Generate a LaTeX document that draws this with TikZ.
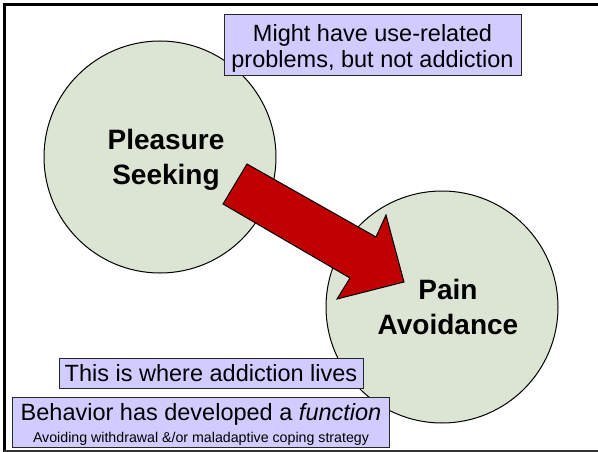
\documentclass[tikz,border=0pt]{standalone}
\usepackage{fontspec}
\setmainfont{Liberation Sans}
\definecolor{circfill}{HTML}{DCE5D4}
\definecolor{boxfill}{HTML}{D0CCFF}
\definecolor{arrred}{HTML}{C00000}
\begin{document}
\begin{tikzpicture}[x=1pt,y=-1pt,
  circ/.style={circle, draw=black, line width=1pt, fill=circfill, minimum size=232pt, inner sep=0pt},
  lbl/.style={font=\fontsize{28}{35}\selectfont\bfseries, align=center, inner sep=0pt},
  notebox/.style={draw=black!85, line width=0.9pt, fill=boxfill, inner sep=0pt},
  bigtxt/.style={font=\fontsize{23.5}{27}\selectfont, inner sep=0pt, anchor=base},
  smalltxt/.style={font=\fontsize{14.2}{16}\selectfont, inner sep=0pt, anchor=base}]
\useasboundingbox (0,0) rectangle (598,452);
% frame
\draw[line width=2.6pt] (4.3,452) -- (4.3,4.3) -- (598,4.3);
\draw[line width=1.2pt, black!80] (4.3,451) -- (598,451);
% circles
\node[circ] (ps) at (160,157) {};
\node[circ] (pa) at (442,307) {};
% arrow
\coordinate (t1) at (247,164);
\coordinate (t2) at (223,204);
\coordinate (s2) at (350,278);
\coordinate (b2) at (337,299);
\coordinate (tip) at (404,282);
\coordinate (b1) at (386,215);
\coordinate (s1) at (376,237);
\draw[line width=1pt, fill=arrred, line join=miter] (t1) -- (s1) -- (b1) -- (tip) -- (b2) -- (s2) -- (t2) -- cycle;
% labels
\node[lbl] (psl) at (166,160) {Pleasure\\Seeking};
\node[lbl] (pal) at (448,307) {Pain\\Avoidance};
% boxes
\node[notebox, minimum width=297pt, minimum height=61pt] (top) at (372.5,45) {};
\node[bigtxt] (top1) at (372.5,41.7) {Might have use-related};
\node[bigtxt] (top2) at (372.5,68) {problems, but not addiction};
\node[notebox, minimum width=304pt, minimum height=30pt] (mid) at (211,373) {};
\node[bigtxt] (mid1) at (211,381.5) {This is where addiction lives};
\node[notebox, minimum width=377pt, minimum height=50pt] (bot) at (200.5,422) {};
\node[bigtxt] (bot1) at (201,420) {Behavior has developed a \textit{function}};
\node[smalltxt] (bot2) at (201,442) {Avoiding withdrawal \&/or maladaptive coping strategy};
\end{tikzpicture}
\end{document}
